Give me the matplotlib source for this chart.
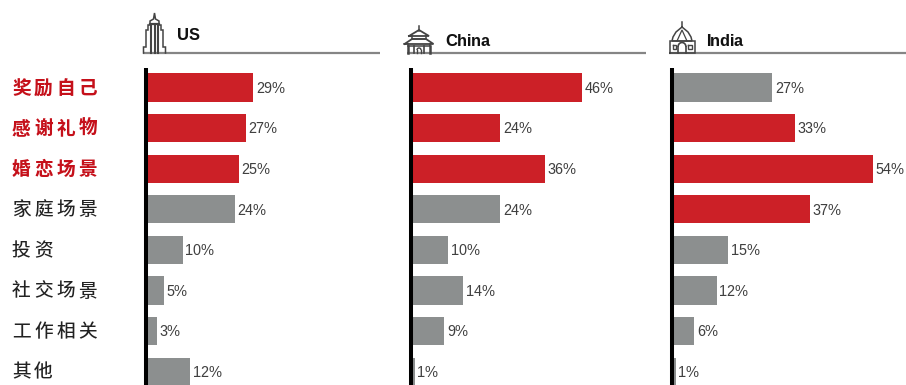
import numpy as np
import matplotlib
matplotlib.use('Agg')
import matplotlib.pyplot as plt
from matplotlib.patches import Arc

W, H = 906, 385
RED = '#CC2027'
GREY = '#8C8F8F'
ICON = '#444444'

categories = ['奖励自己', '感谢礼物', '婚恋场景', '家庭场景', '投资', '社交场景', '工作相关', '其他']
regions = ['US', 'China', 'India']
us_values = [29, 27, 25, 24, 10, 5, 3, 12]
china_values = [46, 24, 36, 24, 10, 14, 9, 1]
india_values = [27, 33, 54, 37, 15, 12, 6, 1]
us_highlight = [True, True, True, False, False, False, False, False]
china_highlight = [True, True, True, False, False, False, False, False]
india_highlight = [False, True, True, True, False, False, False, False]
label_highlight = [True, True, True, False, False, False, False, False]

plt.rcParams['font.family'] = ['Liberation Sans', 'DejaVu Sans']
plt.rcParams['text.hinting'] = 'no_autohint'
plt.rcParams['text.hinting_factor'] = 1
plt.rcParams['text.kerning_factor'] = 6

fig = plt.figure(figsize=(W / 100, H / 100), dpi=100)

# full-figure layer in pixel units for rules, icons and row labels
bg = fig.add_axes([0, 0, 1, 1])
bg.set_xlim(0, W)
bg.set_ylim(H, 0)
bg.axis('off')

PX_PER_PCT = 3.72
ROW_TOP = 87.5
ROW_STEP = 40.6
PANEL_TOP = 68


def panel(left, right, values, flags):
    ax = fig.add_axes([left / W, 0, (right - left) / W, (H - PANEL_TOP) / H])
    ax.patch.set_alpha(0)
    y = np.arange(len(values))
    colors = [RED if f else GREY for f in flags]
    ax.barh(y, values, height=0.69, color=colors)
    for yi, v in zip(y, values):
        ax.annotate(f'{v}%', (v, yi), xytext=(2.0, -1.0), textcoords='offset points',
                    va='center', ha='left', fontsize=10.8, color='#404040')
    ax.set_xlim(0, (right - left) / PX_PER_PCT)
    ax.set_ylim((H - ROW_TOP) / ROW_STEP, (PANEL_TOP - ROW_TOP) / ROW_STEP)
    ax.set_xticks([])
    ax.set_yticks([])
    for s in ['top', 'right', 'bottom']:
        ax.spines[s].set_visible(False)
    ax.spines['left'].set_linewidth(2.9)
    ax.spines['left'].set_color('black')
    ax.spines['left'].set_capstyle('butt')
    return ax


panel(145.5, 390, us_values, us_highlight)
panel(411, 655, china_values, china_highlight)
panel(672, 906, india_values, india_highlight)

# heading rules and titles
for (x0, x1), name, tx, ty in zip([(143, 380), (407, 646), (669, 906)], regions,
                                  [177, 445, 706], [39.5, 46.5, 46.5]):
    bg.plot([x0, x1], [53, 53], color='#858585', lw=1.6, solid_capstyle='butt')
    bg.text(tx, ty, name, fontsize=12.2, fontweight='bold', color='#111111', va='baseline', ha='left')

# row labels are set one character at a time to get the wide tracking
for i, (cat, hot) in enumerate(zip(categories, label_highlight)):
    yc = ROW_TOP + i * ROW_STEP + 0.5
    for j, ch in enumerate(cat):
        bg.text(21.5 + j * 22.1, yc, ch, family=['Noto Sans CJK SC', 'DejaVu Sans'], fontsize=13.4,
                fontweight='bold' if hot else 'normal', color='#C5101A' if hot else '#222222',
                ha='center', va='center')


def stroke(xs, ys, lw=1.1):
    bg.plot(xs, ys, color=ICON, lw=lw, solid_joinstyle='miter')


# skyscraper icon
stroke([143.5, 143.5, 146, 146, 148, 148, 150, 150, 153.5, 154.5, 155.5, 159, 159, 161, 161, 163, 163, 165.5, 165.5],
       [53, 47, 47, 30, 30, 25, 25, 21, 19, 13, 19, 21, 25, 25, 30, 30, 47, 47, 53])
stroke([151, 151], [26, 53], 1.5)
stroke([154.5, 154.5], [26, 53], 1.5)
stroke([158, 158], [26, 53], 1.5)
stroke([150, 159], [24, 24], 1.6)

# pagoda icon
stroke([419, 419], [26, 31])
stroke([409, 414, 419, 424, 429, 409], [36, 33, 30, 33, 36, 36], 1.3)
stroke([412, 412, 426, 426], [36, 39, 39, 36])
stroke([404.5, 412, 426, 433.5, 404.5], [44, 39, 39, 44, 44], 1.3)
stroke([408, 408, 430, 430], [44, 46, 46, 44])
stroke([408, 408], [46, 53], 1.8)
stroke([430, 430], [46, 53], 1.8)
stroke([414, 414], [46, 53], 1.2)
stroke([424, 424], [46, 53], 1.2)
stroke([417, 417], [50, 53], 1.0)
stroke([421, 421], [50, 53], 1.0)
bg.add_patch(Arc((419, 50), 4, 4, theta1=180, theta2=360, color=ICON, lw=1.0))

# domed temple icon
stroke([682, 682], [22, 27])
stroke([682, 676, 673, 672, 692, 691, 688, 682], [27, 32, 37, 41, 41, 37, 32, 27], 1.1)
stroke([677, 682, 687], [41, 30, 41], 0.9)
stroke([669.5, 669.5, 694.5, 694.5, 669.5], [53, 41, 41, 53, 53], 1.1)
stroke([672.5, 676, 676, 672.5, 672.5], [45, 45, 49, 49, 45], 1.0)
stroke([688, 691.5, 691.5, 688, 688], [45, 45, 49, 49, 45], 1.0)
stroke([678, 678], [53, 47], 1.2)
stroke([686, 686], [53, 47], 1.2)
bg.add_patch(Arc((682, 47), 8, 9, theta1=180, theta2=360, color=ICON, lw=1.2))

fig.savefig('out.png', dpi=100)
